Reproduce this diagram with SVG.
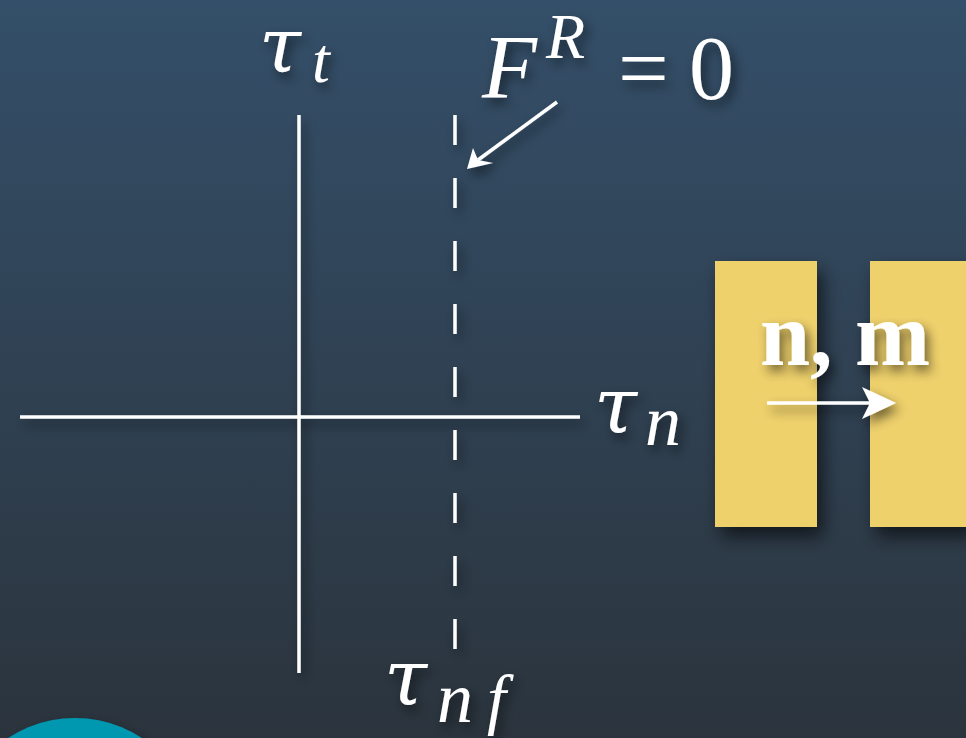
<svg xmlns="http://www.w3.org/2000/svg" width="966" height="738" viewBox="0 0 966 738">
<defs>
<linearGradient id="bg" x1="0" y1="0" x2="0" y2="1">
<stop offset="0" stop-color="#344f69"/>
<stop offset="1" stop-color="#2b343d"/>
</linearGradient>
<filter id="sh" x="-30%" y="-30%" width="160%" height="160%">
<feDropShadow dx="4" dy="6" stdDeviation="6" flood-color="#000" flood-opacity="0.55"/>
</filter>
<filter id="shb" x="-30%" y="-30%" width="160%" height="160%">
<feDropShadow dx="6" dy="10" stdDeviation="9" flood-color="#000" flood-opacity="0.6"/>
</filter>
<style>
.ax{stroke:#fff;stroke-width:3.5;fill:none}
.hd{fill:#fff;stroke:none}
.tau{font-family:"DejaVu Serif","Liberation Serif",serif;font-style:italic;fill:#fff}
.m{font-family:"Liberation Serif","DejaVu Serif",serif;font-style:italic;fill:#fff}
.r{font-family:"Liberation Serif","DejaVu Serif",serif;fill:#fff}
.b{font-family:"Liberation Serif","DejaVu Serif",serif;font-weight:bold;fill:#fff}
</style>
</defs>
<rect width="966" height="738" fill="url(#bg)"/>
<circle cx="75" cy="840" r="122" fill="#0097b0" filter="url(#sh)"/>
<g id="blocks" filter="url(#shb)">
<rect id="block-left" x="715" y="261" width="102" height="266" fill="#efd16c"/>
<rect id="block-right" x="870" y="261" width="100" height="266" fill="#efd16c"/>
</g>
<g id="connectors" filter="url(#sh)">
<line class="ax" x1="299" y1="115" x2="299" y2="673"/>
<line class="ax" x1="20" y1="417" x2="580" y2="417"/>
<line class="ax" x1="455" y1="115" x2="455" y2="660" stroke-dasharray="30 33"/>
<line class="ax" x1="557" y1="102" x2="478" y2="160" stroke-width="4"/>
<path class="hd" d="M467,169 L473,148 L478,160 L493,163 Z"/>
<line class="ax" stroke-width="6" x1="767" y1="403" x2="874" y2="403"/>
<path class="hd" d="M896,403 L862,387 L870,403 L862,419 Z"/>
</g>
<g id="labels" filter="url(#sh)">
<text class="tau" x="259" y="72" font-size="76">τ</text>
<text class="m" x="312" y="82" font-size="64">t</text>
<text class="m" x="482" y="98" font-size="90">F</text>
<text class="m" x="546" y="58" font-size="64">R</text>
<text class="r" x="618" y="99" font-size="90">=</text>
<text class="r" x="689" y="99" font-size="90">0</text>
<text class="tau" x="594" y="433" font-size="78">τ</text>
<text class="m" x="645" y="445" font-size="72">n</text>
<text class="tau" x="384" y="705" font-size="78">τ</text>
<text class="m" x="437" y="722" font-size="72">n</text>
<text class="m" x="487" y="722" font-size="68">f</text>
<text class="b" x="760" y="365" font-size="90">n, m</text>
</g>
</svg>
